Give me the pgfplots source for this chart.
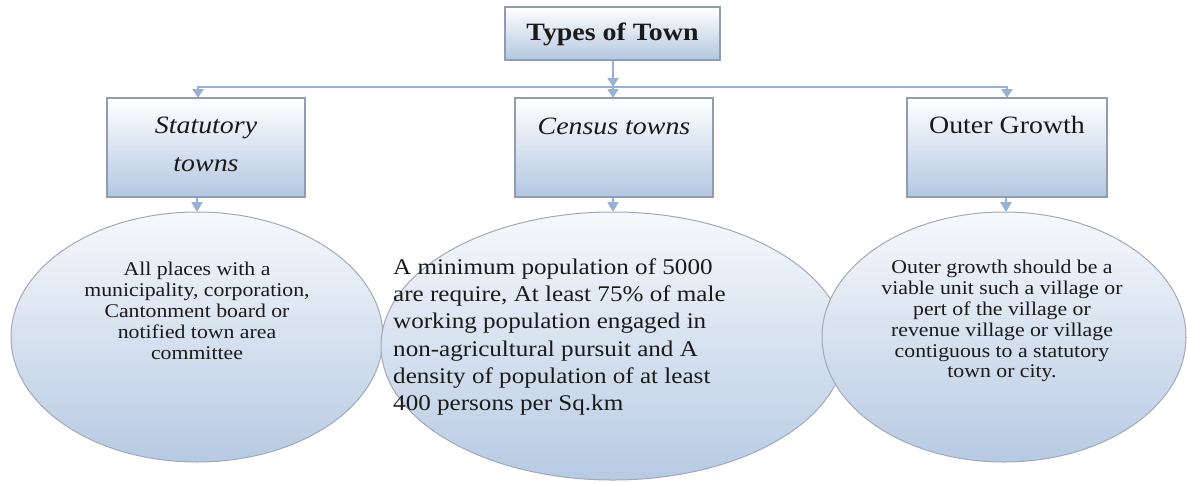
\documentclass[border=0pt]{standalone}
\usepackage{pgfplots}
\pgfplotsset{compat=1.18}
\usepackage{fontspec}
\setmainfont{Liberation Serif}
\newfontfamily\wide[FakeStretch=1.12]{Liberation Serif}
\usetikzlibrary{arrows.meta}
\definecolor{boxtop}{HTML}{FFFFFF}
\definecolor{boxmid}{HTML}{E2EAF4}
\definecolor{boxbot}{HTML}{B3C7E1}
\definecolor{boxline}{HTML}{8F9CB2}
\definecolor{elltop}{HTML}{F6F9FC}
\definecolor{ellbot}{HTML}{B7CAE3}
\definecolor{ellline}{HTML}{A3A8B4}
\definecolor{arrowc}{HTML}{98B0D3}
\definecolor{txt}{HTML}{1A1A1A}
\begin{document}
\begin{tikzpicture}
\begin{axis}[hide axis, scale only axis, width=1187bp, height=483bp,
  xmin=0, xmax=1187, ymin=0, ymax=483, y dir=reverse, clip=false]
% full canvas (invisible) so the picture keeps the reference's extent
\path (axis cs:0,0) rectangle (axis cs:1187,483);
% connectors
\draw[arrowc, line width=2.5bp, -{Triangle[width=11bp,length=9bp]}] (axis cs:613,60) -- (axis cs:613,87);
\draw[arrowc, line width=2.5bp] (axis cs:198,87) -- (axis cs:1007,87);
\draw[arrowc, line width=2.5bp, -{Triangle[width=11bp,length=9bp]}] (axis cs:198,86) -- (axis cs:198,98);
\draw[arrowc, line width=2.5bp, -{Triangle[width=11bp,length=9bp]}] (axis cs:613,86) -- (axis cs:613,98);
\draw[arrowc, line width=2.5bp, -{Triangle[width=11bp,length=9bp]}] (axis cs:1007,86) -- (axis cs:1007,98);
\draw[arrowc, line width=2.5bp, -{Triangle[width=11bp,length=10bp]}] (axis cs:197,197) -- (axis cs:197,212);
\draw[arrowc, line width=2.5bp, -{Triangle[width=11bp,length=10bp]}] (axis cs:613,197) -- (axis cs:613,212);
\draw[arrowc, line width=2.5bp, -{Triangle[width=11bp,length=10bp]}] (axis cs:1006,197) -- (axis cs:1006,212);
% title box
\node[draw=boxline, line width=1.2bp, top color=boxtop, middle color=boxmid, bottom color=boxbot,
  minimum width=215bp, minimum height=53bp, inner sep=0pt] at (axis cs:612.5,33.5) {};
\node[txt, font=\wide\fontsize{25}{28}\selectfont\bfseries] at (axis cs:612.5,34) {Types of Town};
% category boxes
\node[draw=boxline, line width=1.2bp, top color=boxtop, middle color=boxmid, bottom color=boxbot,
  minimum width=198bp, minimum height=99bp, inner sep=0pt] at (axis cs:206,147.5) {};
\node[draw=boxline, line width=1.2bp, top color=boxtop, middle color=boxmid, bottom color=boxbot,
  minimum width=198bp, minimum height=99bp, inner sep=0pt] at (axis cs:614,147.5) {};
\node[draw=boxline, line width=1.2bp, top color=boxtop, middle color=boxmid, bottom color=boxbot,
  minimum width=200bp, minimum height=99bp, inner sep=0pt] at (axis cs:1007,147.5) {};
\node[txt, font=\wide\fontsize{25}{28}\selectfont\itshape] at (axis cs:206,128) {Statutory};
\node[txt, font=\wide\fontsize{25}{28}\selectfont\itshape] at (axis cs:206,165) {towns};
\node[txt, font=\wide\fontsize{25}{28}\selectfont\itshape] at (axis cs:614,126) {Census towns};
\node[txt, font=\wide\fontsize{25}{28}\selectfont] at (axis cs:1007,125) {Outer Growth};
% ellipses
\draw[ellline, line width=1bp, top color=elltop, bottom color=ellbot] (axis cs:197,337) ellipse [x radius=186bp, y radius=125bp];
\draw[ellline, line width=1bp, top color=elltop, bottom color=ellbot] (axis cs:613,346) ellipse [x radius=232bp, y radius=134bp];
\draw[ellline, line width=1bp, top color=elltop, bottom color=ellbot] (axis cs:1004,337) ellipse [x radius=182bp, y radius=125bp];
% ellipse texts
\node[txt, align=center, font=\wide\fontsize{19.5}{21}\selectfont] at (axis cs:197,311)
  {All places with a\\municipality, corporation,\\Cantonment board or\\notified town area\\committee};
\node[txt, align=left, anchor=west, inner sep=0pt, font=\wide\fontsize{22.5}{27.4}\selectfont] at (axis cs:393,337)
  {A minimum population of 5000\\are require, At least 75\% of male\\working population engaged in\\non-agricultural pursuit and A\\density of population of at least\\400 persons per Sq.km};
\node[txt, align=center, font=\wide\fontsize{19.5}{21}\selectfont] at (axis cs:1002,321)
  {Outer growth should be a\\viable unit such a village or\\pert of the village or\\revenue village or village\\contiguous to a statutory\\town or city.};
\end{axis}
\end{tikzpicture}
\end{document}
